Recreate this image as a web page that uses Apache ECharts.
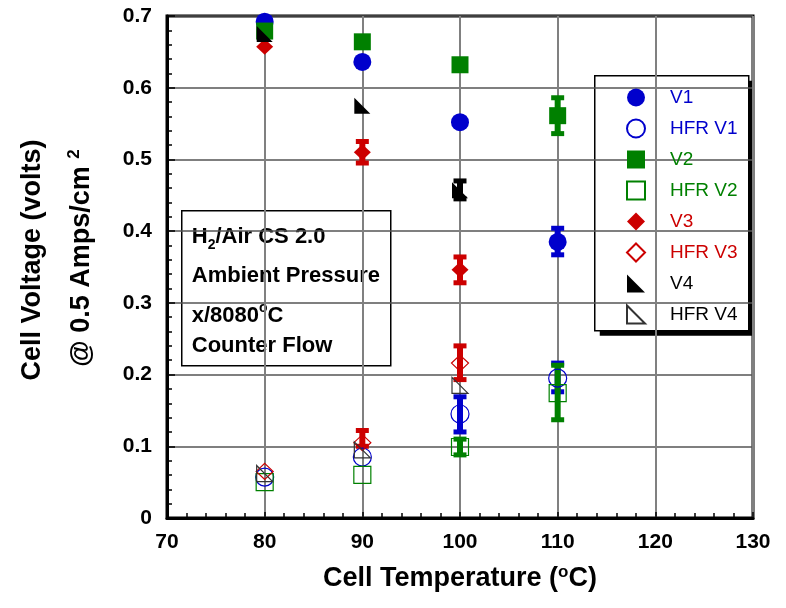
<!DOCTYPE html>
<html>
<head>
<meta charset="utf-8">
<script src="https://cdn.jsdelivr.net/npm/echarts@6/dist/echarts.min.js"></script>
<style>
  html, body { margin: 0; padding: 0; background: #fff; }
  #chart { width: 786px; height: 608px; }
</style>
</head>
<body>
<div id="chart"></div>
<script>
// cell temperature (x) and the voltages
var temps = [80, 90, 100, 110];
var v1 = [0.692, 0.636, 0.552, 0.385];
var hfrV1 = [0.057, 0.085, 0.145, 0.195];
var v2 = [0.679, 0.664, 0.632, 0.561];
var hfrV2 = [0.050, 0.060, 0.099, 0.174];
var v3 = [0.657, 0.510, 0.346, null];
var hfrV3 = [0.065, 0.105, 0.216, null];
var v4 = [0.675, 0.575, 0.457, null];
var hfrV4 = [0.062, 0.095, 0.185, null];

// error bars: [temp, low, high]
var v1Err = [[110, 0.367, 0.404]];
var hfrV1Err = [[100, 0.120, 0.169], [110, 0.176, 0.216]];
var v2Err = [[110, 0.536, 0.586]];
var hfrV2Err = [[100, 0.088, 0.110], [110, 0.137, 0.213]];
var v3Err = [[90, 0.495, 0.525], [100, 0.328, 0.364]];
var hfrV3Err = [[90, 0.100, 0.122], [100, 0.193, 0.240]];
var v4Err = [[100, 0.445, 0.470]];

// axis ticks
var xTicks = [70, 80, 90, 100, 110, 120, 130];
var yTicks = ['0', '0.1', '0.2', '0.3', '0.4', '0.5', '0.6', '0.7'];

var BLUE = '#0000cc', GREEN = '#008000', RED = '#cc0000', BLACK = '#000';
var FONT = "'Liberation Sans', Arial, sans-serif";
var TRI = 'path://M0 0L0 10L10 10Z';

function pairs(ys) {
  var out = [];
  for (var i = 0; i < temps.length; i++) {
    if (ys[i] != null) out.push([temps[i], ys[i]]);
  }
  return out;
}

function scatter(name, ys, symbol, size, color, open) {
  return {
    name: name,
    type: 'scatter',
    z: 5,
    symbol: symbol,
    symbolSize: size,
    data: pairs(ys),
    itemStyle: open
      ? { color: 'rgba(0,0,0,0)', borderColor: color, borderWidth: 1.2, opacity: 1 }
      : { color: color, opacity: 1 },
    emphasis: { disabled: true }
  };
}

function errBars(name, rows, color) {
  return {
    name: name,
    type: 'custom',
    z: 3,
    data: rows,
    encode: { x: 0, y: [1, 2] },
    itemStyle: { color: color },
    renderItem: function (params, api) {
      var lo = api.coord([api.value(0), api.value(1)]);
      var hi = api.coord([api.value(0), api.value(2)]);
      var c = api.visual('color');
      return {
        type: 'group',
        children: [
          { type: 'line', shape: { x1: lo[0], y1: lo[1], x2: hi[0], y2: hi[1] }, style: { stroke: c, lineWidth: 6 } },
          { type: 'rect', shape: { x: hi[0] - 6.5, y: hi[1] - 2.5, width: 13, height: 5 }, style: { fill: c } },
          { type: 'rect', shape: { x: lo[0] - 6.5, y: lo[1] - 2.5, width: 13, height: 5 }, style: { fill: c } }
        ]
      };
    }
  };
}

var chart = echarts.init(document.getElementById('chart'));

var legendNames = [
  ['V1', BLUE, 'circle'],
  ['HFR V1', BLUE, 'circle'],
  ['V2', GREEN, 'rect'],
  ['HFR V2', GREEN, 'rect'],
  ['V3', RED, 'diamond'],
  ['HFR V3', RED, 'diamond'],
  ['V4', BLACK, TRI],
  ['HFR V4', BLACK, TRI]
];

var option = {
  animation: false,
  textStyle: { fontFamily: FONT },
  grid: {
    left: 167, right: 33, top: 16, bottom: 90,
    show: true, borderColor: '#000', borderWidth: 3, backgroundColor: '#fff'
  },
  legend: {
    orient: 'vertical',
    left: 594,
    top: 75,
    z: 20,
    padding: [13, 14, 8, 32],
    itemWidth: 18,
    itemHeight: 18,
    itemGap: 11.5,
    selectedMode: false,
    textStyle: { fontFamily: FONT, fontSize: 19, lineHeight: 18, padding: [0, 0, 0, 20] },
    data: legendNames.map(function (d) {
      return { name: d[0], icon: d[2], textStyle: { color: d[1] } };
    })
  },
  xAxis: {
    type: 'value',
    min: 70, max: 130, interval: 10,
    name: 'Cell Temperature ({sup|o}C)',
    nameLocation: 'middle',
    nameGap: 46,
    nameTextStyle: {
      fontFamily: FONT, fontSize: 27, fontWeight: 'bold', color: '#000', lineHeight: 30,
      rich: { sup: { fontFamily: FONT, fontSize: 17, fontWeight: 'bold', color: '#000', verticalAlign: 'top', lineHeight: 17 } }
    },
    axisLine: { show: true, lineStyle: { color: '#000', width: 3 } },
    axisTick: { show: true, inside: true, length: 6, lineStyle: { color: '#000', width: 1.5 } },
    minorTick: { show: true, splitNumber: 5, length: 5, lineStyle: { color: '#000', width: 1.5 } },
    splitLine: { show: true, lineStyle: { color: '#808080', width: 2 } },
    axisLabel: {
      margin: 14, fontFamily: FONT, fontSize: 21, fontWeight: 'bold', color: '#000',
      formatter: function (v) { return String(xTicks[Math.round((v - 70) / 10)]); }
    }
  },
  yAxis: {
    type: 'value',
    min: 0, max: 0.7, interval: 0.1,
    axisLine: { show: true, lineStyle: { color: '#000', width: 3 } },
    axisTick: { show: true, inside: true, length: 8, lineStyle: { color: '#000', width: 1.5 } },
    minorTick: { show: true, splitNumber: 5, length: 5, lineStyle: { color: '#000', width: 1.5 } },
    splitLine: { show: true, lineStyle: { color: '#555', width: 1.5 } },
    axisLabel: {
      margin: 15, fontFamily: FONT, fontSize: 21, fontWeight: 'bold', color: '#000',
      formatter: function (v) { return yTicks[Math.round(v * 10)]; }
    }
  },
  graphic: [
    {
      type: 'text', x: 33, y: 260, rotation: Math.PI / 2,
      style: {
        text: 'Cell Voltage (volts)', fill: '#000', font: 'bold 27px ' + FONT,
        align: 'center', verticalAlign: 'middle'
      }
    },
    {
      type: 'text', x: 82, y: 258, rotation: Math.PI / 2,
      style: {
        text: '@ 0.5 Amps/cm {sup|2}', fill: '#000', font: 'bold 27px ' + FONT,
        align: 'center', verticalAlign: 'middle', lineHeight: 32,
        rich: { sup: { font: 'bold 17px ' + FONT, fill: '#000', verticalAlign: 'top', lineHeight: 17 } }
      }
    },
    // legend frame with its solid drop shadow
    {
      type: 'group', left: 594, top: 75, z: 8,
      children: [
        { type: 'rect', shape: { x: 5, y: 5, width: 154, height: 255 }, style: { fill: '#000' } },
        { type: 'rect', shape: { x: 0, y: 0, width: 154, height: 255 }, style: { fill: '#fff', stroke: '#000', lineWidth: 1.5 } }
      ]
    },
    {
      type: 'group', left: 181, top: 210, z: 10,
      children: [
        { type: 'rect', shape: { x: 0, y: 0, width: 209, height: 155 }, style: { fill: '#fff', stroke: '#000', lineWidth: 1.5 } },
        {
          type: 'text', x: 10, y: 26,
          style: {
            text: 'H{sub|2}/Air CS 2.0', fill: '#000', font: 'bold 22px ' + FONT,
            verticalAlign: 'middle', lineHeight: 30,
            rich: { sub: { font: 'bold 14px ' + FONT, fill: '#000', verticalAlign: 'bottom', lineHeight: 14, padding: [6, 0, 0, 0] } }
          }
        },
        { type: 'text', x: 10, y: 65, style: { text: 'Ambient Pressure', fill: '#000', font: 'bold 22px ' + FONT, verticalAlign: 'middle' } },
        {
          type: 'text', x: 10, y: 105,
          style: {
            text: 'x/8080{sup|o}C', fill: '#000', font: 'bold 22px ' + FONT,
            verticalAlign: 'middle', lineHeight: 30,
            rich: { sup: { font: 'bold 14px ' + FONT, fill: '#000', verticalAlign: 'top', lineHeight: 14 } }
          }
        },
        { type: 'text', x: 10, y: 135, style: { text: 'Counter Flow', fill: '#000', font: 'bold 22px ' + FONT, verticalAlign: 'middle' } }
      ]
    }
  ],
  series: [
    errBars('errV1', v1Err, BLUE),
    errBars('errHFRV1', hfrV1Err, BLUE),
    errBars('errV2', v2Err, GREEN),
    errBars('errHFRV2', hfrV2Err, GREEN),
    errBars('errV3', v3Err, RED),
    errBars('errHFRV3', hfrV3Err, RED),
    errBars('errV4', v4Err, BLACK),
    scatter('V1', v1, 'circle', 18, BLUE, false),
    scatter('HFR V1', hfrV1, 'circle', 18, BLUE, true),
    scatter('V2', v2, 'rect', 17, GREEN, false),
    scatter('HFR V2', hfrV2, 'rect', 17, GREEN, true),
    scatter('V3', v3, 'diamond', [17, 16], RED, false),
    scatter('HFR V3', hfrV3, 'diamond', [17, 16], RED, true),
    scatter('V4', v4, TRI, 16, BLACK, false),
    scatter('HFR V4', hfrV4, TRI, 16, '#333', true)
  ]
};

chart.setOption(option);
</script>
</body>
</html>
